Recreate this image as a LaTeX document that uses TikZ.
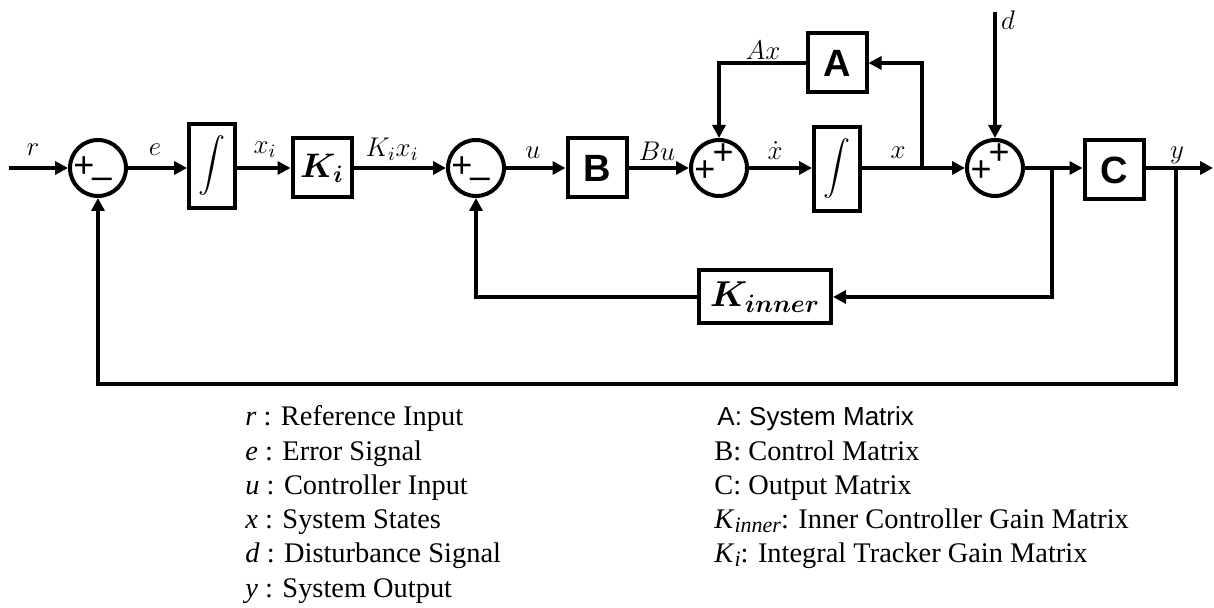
\RequirePackage{fix-cm}
\documentclass[tikz,border=0pt]{standalone}
\usepackage{amsmath,amssymb}
\usepackage{fontspec}
\setmainfont{Liberation Serif}
\newfontfamily\arialfont{Liberation Sans}
\usepackage{tikz}
\usetikzlibrary{arrows.meta, positioning}
\tikzset{
    sysblock/.style={draw, line width=2pt, minimum width=29.5pt, minimum height=29.5pt, inner sep=0pt, font=\arialfont\bfseries\fontsize{19}{19}\selectfont},
    sysgain/.style={draw, line width=2pt, minimum width=29.5pt, minimum height=29.5pt, inner sep=0pt, font=\fontsize{17}{17}\selectfont},
    sysint/.style={draw, line width=2pt, minimum width=23pt, minimum height=42pt, inner sep=0pt, font=\fontsize{13.5}{13.5}\selectfont},
    syssum/.style={circle, draw, line width=2pt, minimum size=28pt, inner sep=0pt},
    syssign/.style={inner sep=0pt, font=\arialfont\fontsize{18}{18}\selectfont},
    sysarrow/.style={-{Triangle[length=6.5pt, width=6.5pt]}, line width=2pt},
    syslabel/.style={inner sep=0pt, font=\fontsize{13.5}{13.5}\selectfont},
    syslegend/.style={anchor=base west, inner sep=0pt, font=\fontsize{14.2}{14.2}\selectfont}
}
\begin{document}
\begin{tikzpicture}[x=0.5pt, y=-0.5pt]
  \useasboundingbox (0,0) rectangle (1214,608);
  \node[syssum] (s1) at (98,168) {};
  \node[sysint] (i1) at (212,166) {$\displaystyle\int$};
  \node[sysgain] (ki) at (322,168) {$\boldsymbol{K_i}$};
  \node[syssum] (s2) at (476,168) {};
  \node[sysblock] (b) at (597,168) {B};
  \node[syssum] (s3) at (719,168) {};
  \node[sysint] (i2) at (837,169) {$\displaystyle\int$};
  \node[sysblock] (a) at (837,63) {A};
  \node[syssum] (s4) at (995,168) {};
  \node[sysblock] (c) at (1114,170) {C};
  \node[sysgain, minimum width=66pt, minimum height=26.5pt, font=\fontsize{18}{18}\selectfont] (kin) at (765,297) {$\boldsymbol{K_{inner}}$};
  \coordinate (in) at (9,168);
  \coordinate (out) at (1213,168);
  \coordinate (dist) at (995,12);
  \coordinate (bx) at (922,168);
  \coordinate (by) at (1052,168);
  \coordinate (bo) at (1176,168);
  \coordinate (bot) at (1176,384);
  \foreach \s in {s1,s2} {
      \node[syssign] (\s-p) at ([shift={(-14,-1)}]\s) {+};
      \node[syssign] (\s-m) at ([shift={(4,15)}]\s) {\textendash};
  }
  \foreach \s in {s3,s4} {
      \node[syssign] (\s-p) at ([shift={(-14,3)}]\s) {+};
      \node[syssign] (\s-q) at ([shift={(4,-14)}]\s) {+};
  }
  \draw[sysarrow] (in) -- (s1);
  \draw[sysarrow] (s1) -- (s1 -| i1.west);
  \draw[sysarrow] (i1.east |- s1) -- (ki);
  \draw[sysarrow] (ki) -- (s2);
  \draw[sysarrow] (s2) -- (b);
  \draw[sysarrow] (b) -- (s3);
  \draw[sysarrow] (s3) -- (s3 -| i2.west);
  \draw[sysarrow] (i2.east |- s4) -- (s4);
  \draw[sysarrow] (bx) |- (a);
  \draw[sysarrow] (a) -| (s3);
  \draw[sysarrow] (dist) -- (s4);
  \draw[sysarrow] (s4) -- (s4 -| c.west);
  \draw[sysarrow] (by) |- (kin);
  \draw[sysarrow] (kin) -| (s2);
  \draw[sysarrow] (c.east |- out) -- (out);
  \draw[sysarrow] (bo) -- (bot) -| (s1);
  \node[syslabel] (lr) at (33,150) {$r$};
  \node[syslabel] (le) at (155,150) {$e$};
  \node[syslabel] (lxi) at (265,150) {$x_i$};
  \node[syslabel] (lkx) at (392,149) {$K_ix_i$};
  \node[syslabel] (lu) at (533,153) {$u$};
  \node[syslabel] (lbu) at (657,151) {$Bu$};
  \node[syslabel] (lxd) at (775,151) {$\dot{x}$};
  \node[syslabel] (lx) at (898,153) {$x$};
  \node[syslabel] (lax) at (763,50) {$Ax$};
  \node[syslabel] (ld) at (1008,20) {$d$};
  \node[syslabel] (ly) at (1177,155) {$y$};
  \foreach \sym/\txt [count=\k] in {r/Reference Input, e/Error Signal, u/Controller Input, x/System States, d/Disturbance Signal, y/System Output} {
      \node[syslegend] (ll\k) at (245,{426+34.2*(\k-1)}) {\textit{\sym} : \txt};
  }
  \node[syslegend, font=\arialfont\fontsize{13}{13}\selectfont] (rl1) at (717,426) {A: System Matrix};
  \node[syslegend] (rl2) at (714,460.2) {B: Control Matrix};
  \node[syslegend] (rl3) at (714,494.4) {C: Output Matrix};
  \node[syslegend] (rl4) at (714,528.6) {\textit{K}\raisebox{-0.3ex}{\fontsize{11}{11}\selectfont\textit{inner}}: Inner Controller Gain Matrix};
  \node[syslegend] (rl5) at (714,562.8) {\textit{K}\raisebox{-0.3ex}{\fontsize{11}{11}\selectfont\textit{i}}: Integral Tracker Gain Matrix};
\end{tikzpicture}
\end{document}
